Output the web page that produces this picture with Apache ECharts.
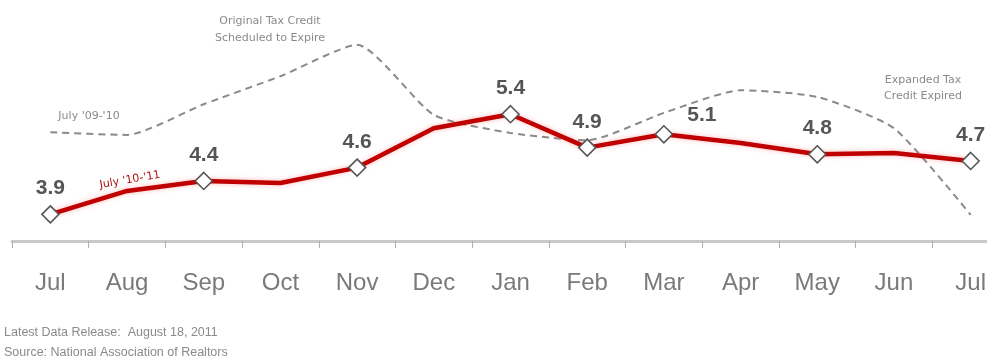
<!DOCTYPE html>
<html>
<head>
<meta charset="utf-8">
<script src="https://cdn.jsdelivr.net/npm/echarts@6/dist/echarts.min.js"></script>
<style>html,body{margin:0;padding:0;background:#fff;}#c{width:987px;height:364px;}</style>
</head>
<body>
<div id="c"></div>
<script>
var months = ['Jul','Aug','Sep','Oct','Nov','Dec','Jan','Feb','Mar','Apr','May','Jun','Jul'];
var sales1011 = [3.9, 4.25, 4.4, 4.37, 4.6, 5.19, 5.4, 4.9, 5.1, 4.97, 4.8, 4.82, 4.7];
var sales0910 = [5.13, 5.09, 5.55, 5.97, 6.44, 5.39, 5.12, 5.01, 5.42, 5.76, 5.66, 5.19, 3.89];
var labelled = [true, false, true, false, true, false, true, true, true, false, true, false, true];

var chart = echarts.init(document.getElementById('c'), null, {renderer: 'canvas'});

var redData = sales1011.map(function (v, i) {
  var item = {value: v};
  if (labelled[i]) {
    item.symbol = 'diamond';
    item.symbolSize = 17;
    item.label = {show: true};
    if (i === 8) item.label.offset = [38, 7];
  } else {
    item.symbol = 'none';
    item.label = {show: false};
  }
  return item;
});

chart.setOption({
  animation: false,
  backgroundColor: '#fff',
  grid: {left: 12, top: 7.5, right: -22, height: 233.5, containLabel: false, outerBoundsMode: 'none'},
  xAxis: {
    type: 'category',
    data: months,
    boundaryGap: true,
    axisLine: {show: true, lineStyle: {color: '#c9c9c9', width: 3}},
    axisTick: {show: true, length: 7, lineStyle: {color: '#b0b0b0', width: 1}},
    axisLabel: {color: '#7a7a7a', fontSize: 24, fontFamily: 'Liberation Sans', margin: 30}
  },
  yAxis: {
    type: 'value', min: 3.5, max: 7.0,
    show: false, splitLine: {show: false}
  },
  series: [
    {
      type: 'line', data: sales0910, symbol: 'none', smooth: 0.2,
      lineStyle: {color: '#8a8a8a', width: 2, type: [7, 5]},
      z: 1
    },
    {
      type: 'line', data: redData,
      lineStyle: {color: '#c00000', width: 4.5, shadowColor: 'rgba(255,60,60,0.35)', shadowBlur: 5},
      itemStyle: {color: '#ffffff', borderColor: '#555', borderWidth: 1.6},
      label: {position: 'top', distance: 6, color: '#555', fontSize: 21, fontWeight: 'bold', fontFamily: 'Liberation Sans'},
      z: 3
    }
  ],
  graphic: [
    {type: 'text', x: 270, y: 21, style: {text: 'Original Tax Credit', fill: '#8a8a8a', font: '11px "DejaVu Sans"', align: 'center', verticalAlign: 'middle'}},
    {type: 'text', x: 270, y: 38, style: {text: 'Scheduled to Expire', fill: '#8a8a8a', font: '11px "DejaVu Sans"', align: 'center', verticalAlign: 'middle'}},
    {type: 'text', x: 923, y: 80, style: {text: 'Expanded Tax', fill: '#8a8a8a', font: '11px "DejaVu Sans"', align: 'center', verticalAlign: 'middle'}},
    {type: 'text', x: 923, y: 96, style: {text: 'Credit Expired', fill: '#8a8a8a', font: '11px "DejaVu Sans"', align: 'center', verticalAlign: 'middle'}},
    {type: 'text', x: 89, y: 116, style: {text: "July '09-'10", fill: '#8a8a8a', font: '11px "DejaVu Sans"', align: 'center', verticalAlign: 'middle'}},
    {type: 'text', x: 130, y: 180, rotation: 0.17, style: {text: "July '10-'11", fill: '#b01010', font: '11px "DejaVu Sans"', align: 'center', verticalAlign: 'middle'}},
    {type: 'text', x: 4, y: 333, style: {text: 'Latest Data Release:  August 18, 2011', fill: '#8a8a8a', font: '12.5px "Liberation Sans"', align: 'left', verticalAlign: 'middle'}},
    {type: 'text', x: 4, y: 353, style: {text: 'Source: National Association of Realtors', fill: '#8a8a8a', font: '12.5px "Liberation Sans"', align: 'left', verticalAlign: 'middle'}}
  ]
});
</script>
</body>
</html>
